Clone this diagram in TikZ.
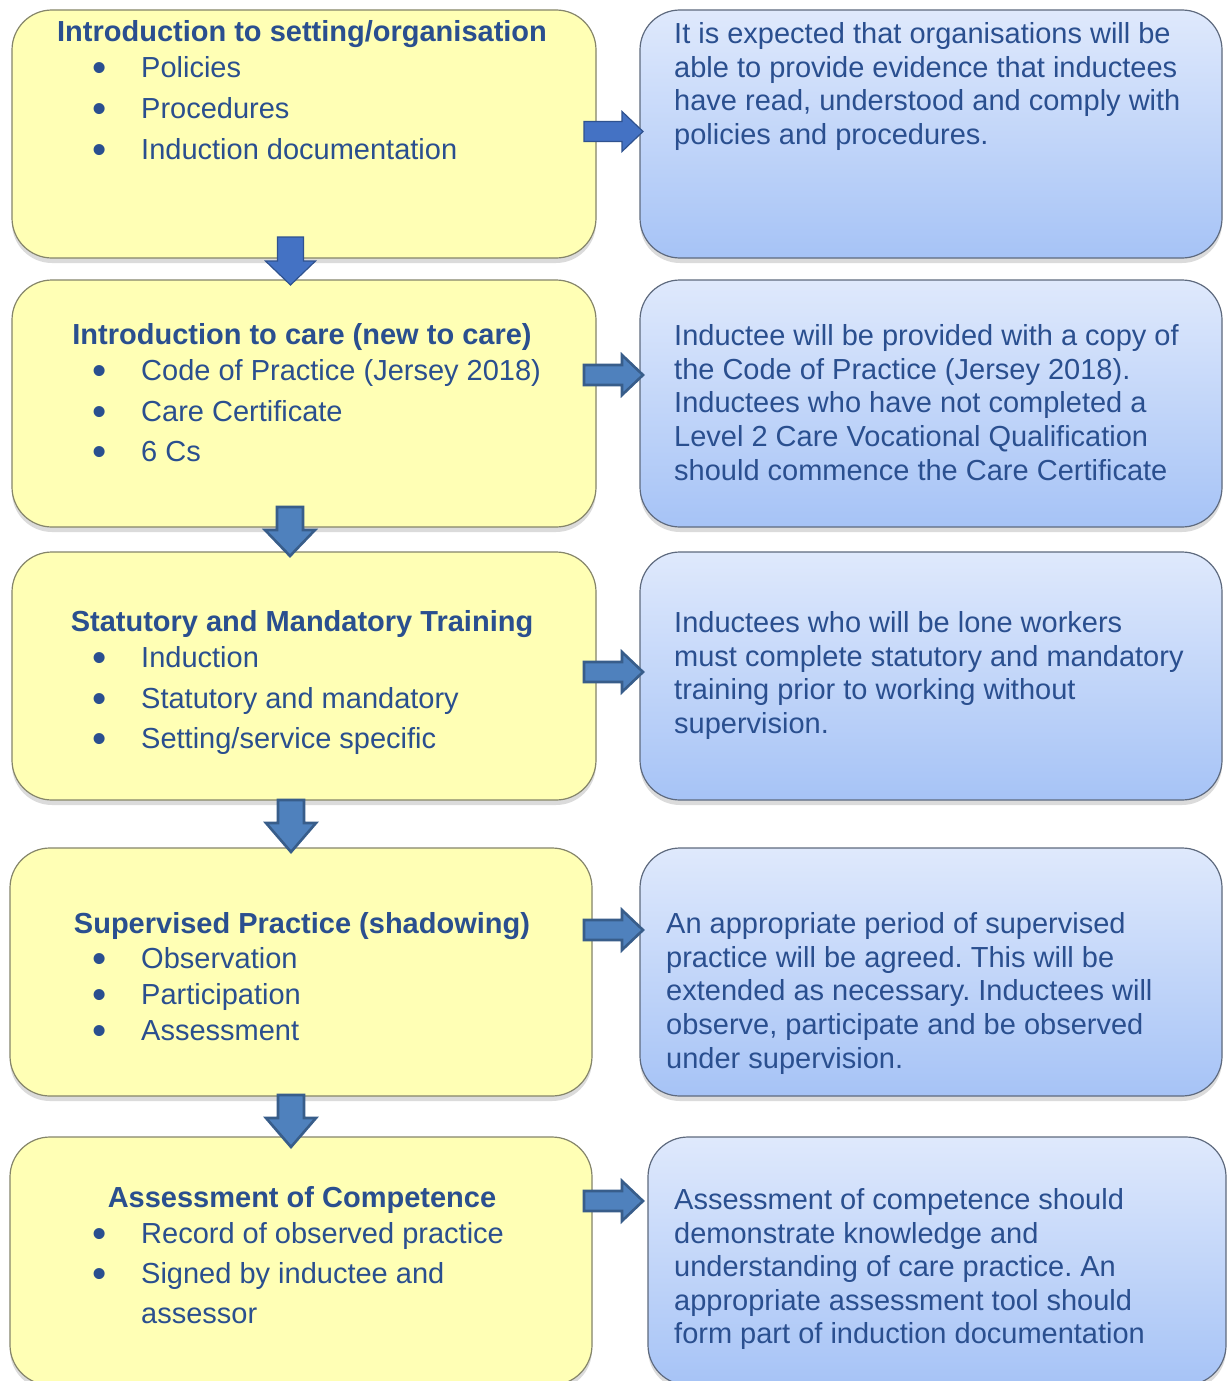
\documentclass[tikz,border=0pt]{standalone}
\usepackage{fontspec}
\setmainfont{Liberation Sans}
\usetikzlibrary{shadows}
\frenchspacing
\definecolor{txtblue}{HTML}{2A4F8F}
\definecolor{yelfill}{HTML}{FFFFB5}
\definecolor{yelline}{HTML}{85856A}
\definecolor{bluetop}{HTML}{DFE9FC}
\definecolor{bluebot}{HTML}{A6C3F6}
\definecolor{blueline}{HTML}{5E6A7E}
\definecolor{arrfillA}{HTML}{4472C4}
\definecolor{arrlineA}{HTML}{2F528F}
\definecolor{arrfillB}{HTML}{4F81BD}
\definecolor{arrlineB}{HTML}{385D8A}
\newcommand\blkright[2]{%
  \draw[#2] (584,#1-10) -- (622,#1-10) -- (622,#1-20) -- (643,#1) -- (622,#1+20) -- (622,#1+10) -- (584,#1+10) -- cycle;}
\newcommand\blkdown[5]{%
  \draw[#5] (#1-13,#2) -- (#1+13,#2) -- (#1+13,#3) -- (#1+25,#3) -- (#1,#4) -- (#1-25,#3) -- (#1-13,#3) -- cycle;}
\newcommand\bul{\makebox[49pt][l]{\smash{\raisebox{-4.2pt}{\scalebox{1.4}{\textbullet}}}}}
\begin{document}
\begin{tikzpicture}[x=1pt,y=-1pt,
  ybox/.style={draw=yelline, line width=1.2pt, fill=yelfill, rounded corners=40pt, inner sep=0pt,
    drop shadow={shadow xshift=0pt, shadow yshift=-5pt, opacity=0.28}},
  bbox/.style={draw=blueline, line width=1.2pt, top color=bluetop, bottom color=bluebot, rounded corners=40pt, inner sep=0pt,
    drop shadow={shadow xshift=0pt, shadow yshift=-5pt, opacity=0.28}},
  ttl/.style={font=\fontsize{29}{34}\selectfont\bfseries, text=txtblue, anchor=base, inner sep=0pt},
  lst/.style={text=txtblue, anchor=base west, inner sep=0pt},
  blkA/.style={fill=arrfillA, draw=arrlineA, line width=1.2pt, line join=miter},
  blkB/.style={fill=arrfillB, draw=arrlineB, line width=2.6pt, line join=miter}]
\fill[white] (0,0) rectangle (1226,1381);
\useasboundingbox (0,0) rectangle (1226,1381);

% boxes
\node[ybox, minimum width=584pt, minimum height=248pt] (L1) at (304,134) {};
\node[ybox, minimum width=584pt, minimum height=247pt] (L2) at (304,403.5) {};
\node[ybox, minimum width=584pt, minimum height=248pt] (L3) at (304,676) {};
\node[ybox, minimum width=582pt, minimum height=248pt] (L4) at (301,972) {};
\node[ybox, minimum width=582pt, minimum height=248pt] (L5) at (301,1261) {};
\node[bbox, minimum width=582pt, minimum height=248pt] (R1) at (931,134) {};
\node[bbox, minimum width=582pt, minimum height=247pt] (R2) at (931,403.5) {};
\node[bbox, minimum width=582pt, minimum height=248pt] (R3) at (931,676) {};
\node[bbox, minimum width=582pt, minimum height=248pt] (R4) at (931,972) {};
\node[bbox, minimum width=578pt, minimum height=248pt] (R5) at (937,1261) {};

% left titles
\node[ttl] (t1) at (302,41.5) {Introduction to setting/organisation};
\node[ttl] (t2) at (302,344.5) {Introduction to care (new to care)};
\node[ttl] (t3) at (302,631.5) {Statutory and Mandatory Training};
\node[ttl] (t4) at (302,933.5) {Supervised Practice (shadowing)};
\node[ttl] (t5) at (302,1207.5) {Assessment of Competence};

% left bullet lists
\node[lst, font=\fontsize{29}{41}\selectfont] (b1) at (92,77.5) {\begin{tabular}[t]{@{}l@{}}\bul Policies\\ \bul Procedures\\ \bul Induction documentation\end{tabular}};
\node[lst, font=\fontsize{29}{40.5}\selectfont] (b2) at (92,380.5) {\begin{tabular}[t]{@{}l@{}}\bul Code of Practice (Jersey 2018)\\ \bul Care Certificate\\ \bul 6 Cs\end{tabular}};
\node[lst, font=\fontsize{29}{40.5}\selectfont] (b3) at (92,667.5) {\begin{tabular}[t]{@{}l@{}}\bul Induction\\ \bul Statutory and mandatory\\ \bul Setting/service specific\end{tabular}};
\node[lst, font=\fontsize{29}{36}\selectfont] (b4) at (92,968.5) {\begin{tabular}[t]{@{}l@{}}\bul Observation\\ \bul Participation\\ \bul Assessment\end{tabular}};
\node[lst, font=\fontsize{29}{40}\selectfont] (b5) at (92,1243.5) {\begin{tabular}[t]{@{}l@{}}\bul Record of observed practice\\ \bul Signed by inductee and\\ \hspace*{49pt}assessor\end{tabular}};

% right texts
\node[lst, font=\fontsize{29}{33.7}\selectfont] (d1) at (674,43.5) {\begin{tabular}[t]{@{}l@{}}It is expected that organisations will be\\ able to provide evidence that inductees\\ have read, understood and comply with\\ policies and procedures.\end{tabular}};
\node[lst, font=\fontsize{29}{33.7}\selectfont] (d2) at (674,345.5) {\begin{tabular}[t]{@{}l@{}}Inductee will be provided with a copy of\\ the Code of Practice (Jersey 2018).\\ Inductees who have not completed a\\ Level 2 Care Vocational Qualification\\ should commence the Care Certificate\end{tabular}};
\node[lst, font=\fontsize{29}{33.7}\selectfont] (d3) at (674,632.5) {\begin{tabular}[t]{@{}l@{}}Inductees who will be lone workers\\ must complete statutory and mandatory\\ training prior to working without\\ supervision.\end{tabular}};
\node[lst, font=\fontsize{29}{33.7}\selectfont] (d4) at (666,933.5) {\begin{tabular}[t]{@{}l@{}}An appropriate period of supervised\\ practice will be agreed. This will be\\ extended as necessary. Inductees will\\ observe, participate and be observed\\ under supervision.\end{tabular}};
\node[lst, font=\fontsize{29}{33.6}\selectfont] (d5) at (674,1209.5) {\begin{tabular}[t]{@{}l@{}}Assessment of competence should\\ demonstrate knowledge and\\ understanding of care practice. An\\ appropriate assessment tool should\\ form part of induction documentation\end{tabular}};

% block arrows
\blkright{131.5}{blkA}
\blkright{375}{blkB}
\blkright{672}{blkB}
\blkright{930}{blkB}
\blkright{1201}{blkB}
\blkdown{290.5}{237}{261}{285}{blkA}
\blkdown{290}{507}{530}{556}{blkB}
\blkdown{291}{800}{823}{852}{blkB}
\blkdown{291}{1095}{1118}{1147}{blkB}
\end{tikzpicture}
\end{document}
